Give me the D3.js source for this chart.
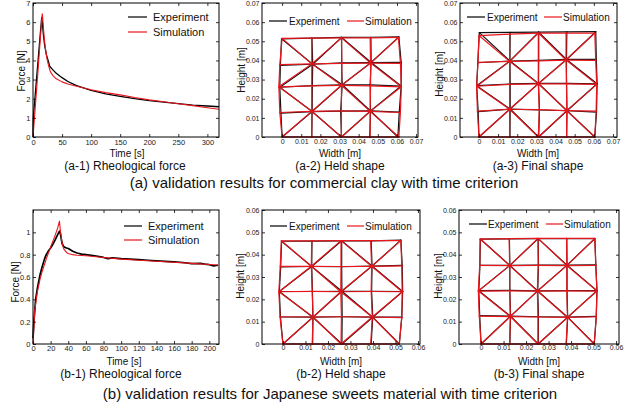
<!DOCTYPE html>
<html lang="en">
<head>
<meta charset="utf-8">
<title>Validation results</title>
<script src="https://cdn.jsdelivr.net/npm/d3@7"></script>
<style>
body { margin: 0; background: #fff; }
</style>
</head>
<body>
<script>
// (a-1) rheological force, commercial clay
var clayExpT = [0, 0.5, 3, 6, 9, 12, 14, 15, 16, 18, 20, 23, 26, 29, 35, 40, 50, 60, 75, 100, 125, 150, 175, 200, 225, 250, 275, 300, 320];
var clayExpF = [0, 1.0, 1.9, 3.0, 4.1, 5.2, 5.9, 6.25, 6.0, 5.3, 4.8, 4.3, 4.0, 3.68, 3.48, 3.33, 3.1, 2.9, 2.68, 2.43, 2.25, 2.12, 2.0, 1.9, 1.82, 1.74, 1.67, 1.62, 1.58];
var claySimT = [0, 4, 8, 12, 15, 16, 17, 19, 21, 24, 27, 30, 35, 40, 50, 60, 75, 100, 125, 150, 175, 200, 225, 250, 275, 300, 320];
var claySimF = [0, 1.6, 3.2, 4.9, 6.1, 6.44, 6.1, 5.3, 4.7, 4.1, 3.7, 3.4, 3.18, 3.04, 2.88, 2.77, 2.65, 2.47, 2.32, 2.2, 2.06, 1.94, 1.84, 1.74, 1.64, 1.53, 1.45];

// (b-1) rheological force, Japanese sweets material
var sweetExpT = [0, 1, 3, 5, 8, 10, 13, 15, 18, 20, 23, 25, 28, 30, 31, 33, 35, 38, 40, 45, 50, 55, 60, 70, 80, 85, 90, 100, 110, 120, 130, 140, 150, 160, 170, 180, 190, 195, 200, 205, 210];
var sweetExpF = [0.05, 0.2, 0.4, 0.5, 0.62, 0.68, 0.76, 0.8, 0.84, 0.86, 0.9, 0.93, 0.98, 1.01, 0.99, 0.9, 0.87, 0.86, 0.855, 0.83, 0.815, 0.805, 0.8, 0.79, 0.775, 0.765, 0.772, 0.765, 0.76, 0.755, 0.75, 0.745, 0.74, 0.735, 0.73, 0.72, 0.722, 0.715, 0.71, 0.7, 0.705];
var sweetSimT = [0, 2, 5, 8, 10, 15, 20, 25, 28, 30, 31, 33, 35, 38, 40, 45, 50, 60, 80, 100, 120, 150, 180, 200, 210];
var sweetSimF = [0, 0.3, 0.47, 0.58, 0.64, 0.76, 0.87, 0.97, 1.04, 1.1, 1.02, 0.9, 0.85, 0.82, 0.81, 0.8, 0.795, 0.79, 0.775, 0.76, 0.75, 0.737, 0.722, 0.712, 0.707];

// mesh nodes [x, y] in metres, rows from bottom to top
var clayHeldExp = [
  [[0, 0], [0.0155, 0], [0.031, 0], [0.0458, 0], [0.0605, 0]],
  [[-0.0006, 0.0125], [0.0157, 0.0133], [0.0306, 0.0135], [0.0462, 0.0136], [0.0612, 0.013]],
  [[-0.0012, 0.026], [0.0158, 0.0268], [0.0314, 0.0273], [0.046, 0.0272], [0.0622, 0.0266]],
  [[-0.0009, 0.0374], [0.016, 0.038], [0.0311, 0.0387], [0.0465, 0.0389], [0.0622, 0.039]],
  [[-0.0003, 0.0513], [0.0156, 0.0516], [0.0311, 0.052], [0.0464, 0.0521], [0.061, 0.0523]]
];
var clayHeldSim = [
  [[0, 0], [0.0155, 0], [0.031, 0], [0.046, 0], [0.061, 0]],
  [[-0.0012, 0.0128], [0.0155, 0.0134], [0.031, 0.0136], [0.046, 0.0134], [0.0618, 0.0128]],
  [[-0.0017, 0.0262], [0.0155, 0.0267], [0.031, 0.027], [0.0462, 0.0267], [0.0623, 0.0262]],
  [[-0.0012, 0.0378], [0.0155, 0.0382], [0.0312, 0.0385], [0.0462, 0.0386], [0.0618, 0.0385]],
  [[0, 0.0515], [0.0155, 0.0517], [0.031, 0.0518], [0.046, 0.0518], [0.0608, 0.052]]
];
var clayFinalExp = [
  [[0, 0], [0.0162, 0], [0.0312, 0], [0.0458, 0], [0.0605, 0]],
  [[-0.0004, 0.0133], [0.0163, 0.0146], [0.0316, 0.0141], [0.046, 0.0137], [0.0614, 0.013]],
  [[-0.0012, 0.0268], [0.0163, 0.0277], [0.0311, 0.028], [0.0457, 0.028], [0.0617, 0.0278]],
  [[-0.0006, 0.0388], [0.0162, 0.0397], [0.0312, 0.04], [0.0457, 0.0405], [0.0613, 0.0405]],
  [[0.0002, 0.0545], [0.0163, 0.0547], [0.0312, 0.0548], [0.0459, 0.0549], [0.061, 0.055]]
];
var clayFinalSim = [
  [[0, 0], [0.016, 0], [0.031, 0], [0.0458, 0], [0.0605, 0]],
  [[-0.0008, 0.0135], [0.016, 0.0145], [0.0315, 0.0143], [0.0458, 0.0138], [0.0612, 0.0135]],
  [[-0.0012, 0.0265], [0.016, 0.0275], [0.031, 0.0278], [0.0458, 0.0278], [0.0615, 0.0275]],
  [[-0.0005, 0.039], [0.016, 0.0395], [0.031, 0.0398], [0.0455, 0.0402], [0.061, 0.04]],
  [[0, 0.053], [0.016, 0.0537], [0.031, 0.0543], [0.0455, 0.0543], [0.0605, 0.0543]]
];
var sweetHeldExp = [
  [[0, 0], [0.0132, 0], [0.0262, 0], [0.0392, 0], [0.0517, 0]],
  [[-0.0011, 0.0121], [0.0133, 0.012], [0.0263, 0.0122], [0.0399, 0.012], [0.0528, 0.012]],
  [[-0.0016, 0.0235], [0.0131, 0.0235], [0.0262, 0.0236], [0.0394, 0.0236], [0.0532, 0.0235]],
  [[-0.001, 0.0345], [0.0128, 0.0347], [0.0261, 0.0346], [0.0396, 0.0349], [0.053, 0.0352]],
  [[-0.0006, 0.046], [0.0129, 0.0461], [0.0261, 0.0462], [0.0392, 0.0462], [0.0524, 0.0465]]
];
var sweetHeldSim = [
  [[0, 0], [0.013, 0], [0.0258, 0], [0.039, 0], [0.0517, 0]],
  [[-0.0013, 0.0122], [0.0134, 0.0121], [0.026, 0.0122], [0.0397, 0.0121], [0.0528, 0.0118]],
  [[-0.0018, 0.0234], [0.013, 0.0236], [0.0257, 0.0234], [0.0392, 0.0235], [0.053, 0.0234]],
  [[-0.0012, 0.0348], [0.0126, 0.0348], [0.0258, 0.0347], [0.0394, 0.0348], [0.0528, 0.035]],
  [[-0.0007, 0.0462], [0.0128, 0.0462], [0.0258, 0.0463], [0.039, 0.0463], [0.0524, 0.0463]]
];
var sweetFinalExp = [
  [[0, 0], [0.0128, 0], [0.0254, 0], [0.0379, 0], [0.0503, 0]],
  [[-0.0006, 0.0127], [0.0131, 0.0125], [0.0255, 0.0122], [0.0385, 0.012], [0.0512, 0.0124]],
  [[-0.001, 0.0239], [0.0128, 0.024], [0.0252, 0.0238], [0.0382, 0.0239], [0.0515, 0.0239]],
  [[-0.0005, 0.0352], [0.0128, 0.0352], [0.0255, 0.0353], [0.0382, 0.0353], [0.051, 0.0354]],
  [[-0.0003, 0.047], [0.0126, 0.0471], [0.0254, 0.0472], [0.0381, 0.0472], [0.0506, 0.0472]]
];
var sweetFinalSim = [
  [[0, 0], [0.0127, 0], [0.0253, 0], [0.0378, 0], [0.0503, 0]],
  [[-0.0008, 0.0125], [0.013, 0.0123], [0.0253, 0.0121], [0.0384, 0.0119], [0.0512, 0.0122]],
  [[-0.0012, 0.0237], [0.0127, 0.0238], [0.025, 0.0237], [0.0381, 0.0238], [0.0515, 0.0237]],
  [[-0.0006, 0.0352], [0.0127, 0.0351], [0.0254, 0.0352], [0.0381, 0.0351], [0.051, 0.0352]],
  [[-0.0004, 0.047], [0.0125, 0.0472], [0.0253, 0.0473], [0.038, 0.0473], [0.0505, 0.0473]]
];

// tick values
var clayTimeTicks = [0, 50, 100, 150, 200, 250, 300];
var clayForceTicks = [0, 1, 2, 3, 4, 5, 6, 7];
var sweetTimeTicks = [0, 20, 40, 60, 80, 100, 120, 140, 160, 180, 200];
var sweetForceTicks = [0, 0.2, 0.4, 0.6, 0.8, 1];
var clayMeshTicks = [0, 0.01, 0.02, 0.03, 0.04, 0.05, 0.06, 0.07];
var sweetMeshTicks = [0, 0.01, 0.02, 0.03, 0.04, 0.05, 0.06];

var seriesNames = ["Experiment", "Simulation"];
var red = "#e8161c";
var font = "'Liberation Sans', Arial, sans-serif";

var w = 634;
var h = 408;

var svg = d3.select("body")
    .append("svg")
    .attr("width", w)
    .attr("height", h);

svg.append("rect").attr("width", w).attr("height", h).attr("fill", "#fff");

function tickFmt(d) {
    return d === 0 ? "0" : String(+d.toFixed(3));
}

function makePanel(box, xDom, yDom) {
    return {
        box: box,
        x: d3.scaleLinear().domain(xDom).range([box.left, box.right]),
        y: d3.scaleLinear().domain(yDom).range([box.bottom, box.top]),
        g: svg.append("g")
    };
}

function drawAxes(p, xTicks, yTicks, fs, padX) {
    var g = p.g.append("g");
    var b = p.box;
    var ax = [
        [d3.axisBottom(p.x).tickValues(xTicks).tickFormat(tickFmt).tickPadding(padX), 0, b.bottom],
        [d3.axisLeft(p.y).tickValues(yTicks).tickFormat(tickFmt).tickPadding(2.5), b.left, 0],
        [d3.axisTop(p.x).tickValues(xTicks).tickFormat(""), 0, b.top],
        [d3.axisRight(p.y).tickValues(yTicks).tickFormat(""), b.right, 0]
    ];
    ax.forEach(function(a) {
        g.append("g")
         .attr("transform", "translate(" + a[1] + "," + a[2] + ")")
         .call(a[0].tickSizeInner(-3).tickSizeOuter(0))
         .attr("font-family", font)
         .attr("font-size", fs)
         .call(function(s) { s.select(".domain").remove(); })
         .call(function(s) { s.selectAll("line").attr("stroke", "#000").attr("stroke-width", 0.8); })
         .call(function(s) { s.selectAll("text").attr("fill", "#222"); });
    });
    g.append("rect")
     .attr("x", b.left).attr("y", b.top)
     .attr("width", b.right - b.left).attr("height", b.bottom - b.top)
     .attr("fill", "none").attr("stroke", "#000").attr("stroke-width", 1);
}

function drawCurve(p, ts, vs, color, sw) {
    var line = d3.line()
        .x(function(d) { return p.x(d[0]); })
        .y(function(d) { return p.y(d[1]); });
    p.g.append("path")
     .datum(d3.zip(ts, vs))
     .attr("d", line)
     .attr("fill", "none")
     .attr("stroke", color)
     .attr("stroke-width", sw)
     .attr("stroke-linejoin", "round");
}

function meshEdges(n) {
    var e = [];
    for (var r = 0; r < 5; r++) {
        for (var c = 0; c < 5; c++) {
            if (c < 4) e.push([n[r][c], n[r][c + 1]]);
            if (r < 4) e.push([n[r][c], n[r + 1][c]]);
            if (r < 4 && c < 4) {
                if ((r + c) % 2 === 0) e.push([n[r][c], n[r + 1][c + 1]]);
                else e.push([n[r][c + 1], n[r + 1][c]]);
            }
        }
    }
    return e;
}

function drawMesh(p, nodes, color, sw) {
    p.g.append("g")
     .selectAll("line")
     .data(meshEdges(nodes))
     .enter()
     .append("line")
     .attr("x1", function(d) { return p.x(d[0][0]); })
     .attr("y1", function(d) { return p.y(d[0][1]); })
     .attr("x2", function(d) { return p.x(d[1][0]); })
     .attr("y2", function(d) { return p.y(d[1][1]); })
     .attr("stroke", color)
     .attr("stroke-width", sw)
     .attr("stroke-linecap", "round");
}

// legend: items [x1, x2, textX, y] relative to the panel's top-left
function drawLegend(p, items, fs) {
    var colors = ["#000", red];
    items.forEach(function(it, i) {
        var bx = p.box.left, by = p.box.top;
        p.g.append("line")
         .attr("x1", bx + it[0]).attr("x2", bx + it[1])
         .attr("y1", by + it[3]).attr("y2", by + it[3])
         .attr("stroke", colors[i]).attr("stroke-width", 1.2);
        p.g.append("text")
         .attr("x", bx + it[2]).attr("y", by + it[3] + fs * 0.36)
         .attr("font-family", font).attr("font-size", fs)
         .attr("fill", "#111")
         .text(seriesNames[i]);
    });
}

function label(x, y, str, fs, rot) {
    svg.append("text")
       .attr("transform", "translate(" + x + "," + y + ")" + (rot ? " rotate(-90)" : ""))
       .attr("text-anchor", "middle")
       .attr("font-family", font)
       .attr("font-size", fs)
       .attr("fill", "#111")
       .text(str);
}

// ---- row (a): commercial clay ----
var a1 = makePanel({left: 33, right: 219, top: 3, bottom: 137}, [0, 320], [0, 7]);
drawCurve(a1, clayExpT, clayExpF, "#000", 1.3);
drawCurve(a1, claySimT, claySimF, red, 1.1);
drawAxes(a1, clayTimeTicks, clayForceTicks, 7.5, 2.5);
drawLegend(a1, [[95, 114, 120, 14], [95, 114, 120, 29]], 11);

var a2 = makePanel({left: 262, right: 418, top: 3, bottom: 137}, [-0.0105, 0.071], [0, 0.07]);
drawMesh(a2, clayHeldExp, "#111", 1.2);
drawMesh(a2, clayHeldSim, red, 1.2);
drawAxes(a2, clayMeshTicks, clayMeshTicks, 7, 2.5);
drawLegend(a2, [[7, 25, 27, 18], [85, 102, 103, 18]], 10);

var a3 = makePanel({left: 460, right: 617, top: 3, bottom: 137}, [-0.0099, 0.0721], [0, 0.07]);
drawMesh(a3, clayFinalExp, "#111", 1.2);
drawMesh(a3, clayFinalSim, red, 1.2);
drawAxes(a3, clayMeshTicks, clayMeshTicks, 7, 2.5);
drawLegend(a3, [[7, 25, 27, 14], [84, 102, 103, 14]], 10);

label(25, 71, "Force [N]", 10, true);
label(245, 70, "Height [m]", 10, true);
label(443, 74, "Height [m]", 10, true);
label(127, 156.5, "Time [s]", 10);
label(340, 156.5, "Width [m]", 10);
label(538, 156.5, "Width [m]", 10);
label(125, 169.5, "(a-1) Rheological force", 12);
label(340, 169.5, "(a-2) Held shape", 12);
label(538, 169.5, "(a-3) Final shape", 12);
label(324, 187.5, "(a) validation results for commercial clay with time criterion", 15);

// ---- row (b): Japanese sweets material ----
var b1 = makePanel({left: 33, right: 219, top: 210, bottom: 344}, [0, 211], [0, 1.2]);
drawCurve(b1, sweetExpT, sweetExpF, "#000", 1.7);
drawCurve(b1, sweetSimT, sweetSimF, red, 1.1);
drawAxes(b1, sweetTimeTicks, sweetForceTicks, 7.5, 1.5);
drawLegend(b1, [[91, 109, 115, 16], [91, 109, 115, 30]], 11);

var b2 = makePanel({left: 262, right: 420, top: 210, bottom: 344}, [-0.0093, 0.0609], [0, 0.06]);
drawMesh(b2, sweetHeldExp, "#111", 1.2);
drawMesh(b2, sweetHeldSim, red, 1.2);
drawAxes(b2, sweetMeshTicks, sweetMeshTicks, 7, 1.5);
drawLegend(b2, [[8, 25, 27, 16], [85, 102, 103, 16]], 10);

var b3 = makePanel({left: 459, right: 619, top: 210, bottom: 344}, [-0.0098, 0.0613], [0, 0.06]);
drawMesh(b3, sweetFinalExp, "#111", 1.2);
drawMesh(b3, sweetFinalSim, red, 1.2);
drawAxes(b3, sweetMeshTicks, sweetMeshTicks, 7, 1.5);
drawLegend(b3, [[10, 28, 29, 14], [87, 104, 105, 14]], 10);

label(19, 282, "Force [N]", 10, true);
label(244, 276, "Height [m]", 10, true);
label(442, 276, "Height [m]", 10, true);
label(124, 364.5, "Time [s]", 10);
label(341, 364.5, "Width [m]", 10);
label(539, 364.5, "Width [m]", 10);
label(121, 377.5, "(b-1) Rheological force", 12);
label(341, 377.5, "(b-2) Held shape", 12);
label(539, 377.5, "(b-3) Final shape", 12);
label(330, 398.5, "(b) validation results for Japanese sweets material with time criterion", 15);
</script>
</body>
</html>
